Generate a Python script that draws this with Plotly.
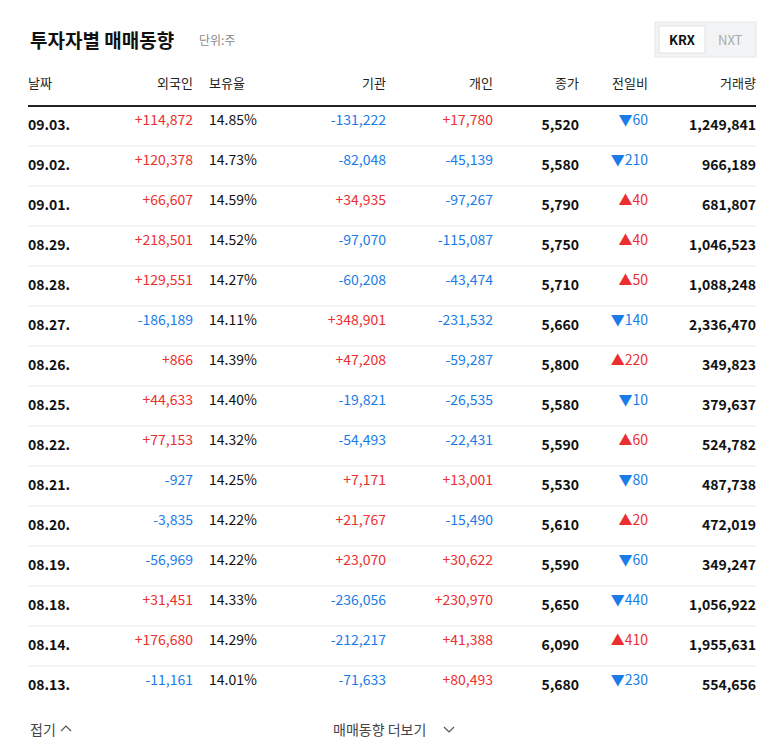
import plotly.graph_objects as go

W, H = 768, 749
dates = ["09.03.","09.02.","09.01.","08.29.","08.28.","08.27.","08.26.","08.25.","08.22.","08.21.","08.20.","08.19.","08.18.","08.14.","08.13."]
foreign = [114872,120378,66607,218501,129551,-186189,866,44633,77153,-927,-3835,-56969,31451,176680,-11161]
holding = ["14.85%","14.73%","14.59%","14.52%","14.27%","14.11%","14.39%","14.40%","14.32%","14.25%","14.22%","14.22%","14.33%","14.29%","14.01%"]
inst = [-131222,-82048,34935,-97070,-60208,348901,47208,-19821,-54493,7171,21767,23070,-236056,-212217,-71633]
indiv = [17780,-45139,-97267,-115087,-43474,-231532,-59287,-26535,-22431,13001,-15490,30622,230970,41388,80493]
close = [5520,5580,5790,5750,5710,5660,5800,5580,5590,5530,5610,5590,5650,6090,5680]
change = [-60,-210,40,40,50,-140,220,-10,60,-80,20,-60,-440,410,-230]
volume = [1249841,966189,681807,1046523,1088248,2336470,349823,379637,524782,487738,472019,349247,1056922,1955631,554656]
headers = ["날짜","외국인","보유율","기관","개인","종가","전일비","거래량"]

RED, BLUE, DARK = "#eb2f2f", "#1a7ce8", "#111111"
def sgn(v): return f"{v:+,}"
def col(v): return RED if v > 0 else BLUE
def chg(v):
    tri = "▲" if v > 0 else "▼"
    return f"{tri}{abs(v):,}"

cells = [
    [f"<b>{d}</b>" for d in dates],
    [sgn(v) for v in foreign],
    holding,
    [sgn(v) for v in inst],
    [sgn(v) for v in indiv],
    [f"<b>{v:,}</b>" for v in close],
    [chg(v) for v in change],
    [f"<b>{v:,}</b>" for v in volume],
]
colors = [[DARK]*15, [col(v) for v in foreign], [DARK]*15, [col(v) for v in inst],
          [col(v) for v in indiv], [DARK]*15, [col(v) for v in change], [DARK]*15]

bounds = [12, 82, 193, 285, 386, 493, 579, 648, 756]
widths = [bounds[i+1]-bounds[i] for i in range(8)]
aligns = ["left","right","left","right","right","right","right","right"]

px = lambda x: x / W
py = lambda y: 1 - y / H
TOP = 62
font = "Noto Sans CJK KR"
fig = go.Figure(go.Table(
    domain=dict(x=[px(bounds[0]), px(bounds[-1])], y=[0, py(TOP)]),
    columnwidth=widths,
    header=dict(values=headers, align=aligns, height=36, fill_color="white",
                line_color="white", font=dict(size=13, color="#222")),
    cells=dict(values=cells, align=aligns, height=40, fill_color="white",
               line_color="white", font=dict(size=14, color=colors)),
))
shapes = [dict(type="line", xref="paper", yref="paper", x0=px(20), x1=px(748),
               y0=py(98), y1=py(98), line=dict(color="#222", width=2))]
for i in range(1, 15):
    y = 98 + 40*i
    shapes.append(dict(type="line", xref="paper", yref="paper", x0=px(20), x1=px(748),
                       y0=py(y), y1=py(y), line=dict(color="#e8e8e8", width=1)))
shapes.append(dict(type="rect", xref="paper", yref="paper", x0=px(647), x1=px(748), y0=py(49), y1=py(14),
                   fillcolor="#f2f3f5", line=dict(color="#e6e6e6", width=1)))
shapes.append(dict(type="rect", xref="paper", yref="paper", x0=px(651), x1=px(697), y0=py(45), y1=py(18),
                   fillcolor="white", line=dict(color="#e0e0e0", width=1)))
def chevron(x, y, up):
    s = 2 if up else -2
    return dict(type="path", xref="paper", yref="paper",
                path=f"M {px(x-5)},{py(y+s)} L {px(x)},{py(y-1.5*s)} L {px(x+5)},{py(y+s)}",
                line=dict(color="#555", width=1.2))
shapes.append(chevron(58, 721, True))
shapes.append(chevron(441, 721, False))

ann = [
    dict(x=px(20), y=py(32), text="<b>투자자별 매매동향</b>", font=dict(size=19, color="#111")),
    dict(x=px(189), y=py(32), text="단위:주", font=dict(size=12, color="#888")),
    dict(x=px(674), y=py(32), text="<b>KRX</b>", font=dict(size=13, color="#111"), xanchor="center"),
    dict(x=px(722), y=py(32), text="NXT", font=dict(size=13, color="#aaa"), xanchor="center"),
    dict(x=px(20), y=py(721), text="접기", font=dict(size=14, color="#444")),
    dict(x=px(323), y=py(721), text="매매동향 더보기", font=dict(size=14, color="#444")),
]
for a in ann:
    a.setdefault("xanchor", "left")
    a.update(xref="paper", yref="paper", yanchor="middle", showarrow=False)

fig.update_layout(width=W, height=H, margin=dict(l=0, r=0, t=0, b=0),
                  paper_bgcolor="white", plot_bgcolor="white",
                  font=dict(family=font), shapes=shapes, annotations=ann)
fig.write_html("out.html")
